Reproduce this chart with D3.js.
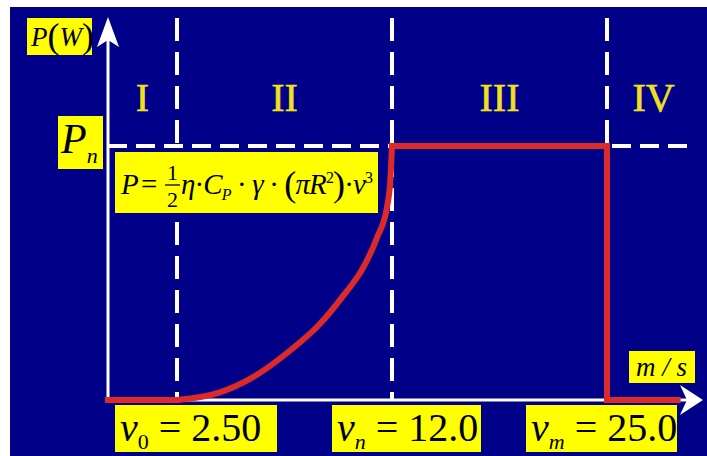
<!DOCTYPE html>
<html>
<head>
<meta charset="utf-8">
<script src="https://cdn.jsdelivr.net/npm/d3@7"></script>
<style>
  body { margin: 0; background: #fff; }
  svg { display: block; }
</style>
</head>
<body>
<div id="chart"></div>
<script>
// rising part of the power curve (P normalised to Pn = 1)
const curveSpeeds = [2.5, 4.4, 5.86, 7.36, 8.82, 9.84, 10.72, 11.34, 11.78, 11.93, 12.0];
const curvePowers = [0, 0.03, 0.09, 0.185, 0.30, 0.41, 0.52, 0.64, 0.76, 0.87, 1.0];
// flat / step parts: below cut-in, rated, cut-out
const lowSpeeds = [0, 2.5];
const lowPowers = [0, 0];
const ratedSpeeds = [12.0, 25.0, 25.0, 29.1];
const ratedPowers = [1, 1, 0, 0];
const markSpeeds = [2.5, 12.0, 25.0];
const markNames = ['0', 'n', 'm'];
const markTexts = ['2.50', '12.0', '25.0'];
const regionNames = ['I', 'II', 'III', 'IV'];
const regionBounds = [0, 2.5, 12.0, 25.0, 30.4];
const ratedPower = 1;

const width = 707;
const height = 456;
const serif = 'Liberation Serif, Times New Roman, serif';

const svg = d3.select('#chart').append('svg')
    .attr('width', width)
    .attr('height', height);

// navy panel with thin white border top/left
svg.append('rect')
    .attr('x', 10).attr('y', 7)
    .attr('width', width - 10).attr('height', height - 7)
    .attr('fill', '#000088');

// x scale is piecewise: the sketch is not drawn to scale
const x = d3.scaleLinear()
    .domain(regionBounds)
    .range([108, 177, 392, 607, 700]);

const y = d3.scaleLinear()
    .domain([0, ratedPower])
    .range([400, 146]);

const x0 = x(0), y0 = y(0);

// dashed guides
markSpeeds.forEach(v => {
    svg.append('line')
        .attr('x1', x(v)).attr('x2', x(v))
        .attr('y1', 18).attr('y2', y0)
        .attr('stroke', '#fff')
        .attr('stroke-width', 4)
        .attr('stroke-dasharray', '23,11');
});
svg.append('line')
    .attr('x1', x0).attr('x2', 695)
    .attr('y1', y(ratedPower)).attr('y2', y(ratedPower))
    .attr('stroke', '#fff')
    .attr('stroke-width', 4)
    .attr('stroke-dasharray', '19,9');

// axes with arrow heads
svg.append('line')
    .attr('x1', x0).attr('x2', x0)
    .attr('y1', y0 + 1).attr('y2', 40)
    .attr('stroke', '#fff').attr('stroke-width', 3);
svg.append('line')
    .attr('x1', x0 - 1).attr('x2', 690)
    .attr('y1', y0).attr('y2', y0)
    .attr('stroke', '#fff').attr('stroke-width', 3);
svg.append('path')
    .attr('d', `M${x0},17 L${x0 + 11},47 L${x0},40 L${x0 - 11},47 Z`)
    .attr('fill', '#fff');
svg.append('path')
    .attr('d', `M703,${y0} L680,${y0 - 15} L687,${y0} L680,${y0 + 15} Z`)
    .attr('fill', '#fff');

// region numerals
regionNames.forEach((name, i) => {
    svg.append('text')
        .attr('x', x((regionBounds[i] + regionBounds[i + 1]) / 2))
        .attr('y', 111)
        .attr('text-anchor', 'middle')
        .attr('font-family', serif)
        .attr('font-size', 40)
        .attr('fill', '#f2e01e')
        .attr('stroke', '#f2e01e')
        .attr('stroke-width', 0.6)
        .text(name);
});

// power curve
const lineStep = d3.line()
    .x(d => x(d[0]))
    .y(d => y(d[1]));
const lineCurve = d3.line()
    .x(d => x(d[0]))
    .y(d => y(d[1]))
    .curve(d3.curveMonotoneX);

[[lowSpeeds, lowPowers, lineStep], [curveSpeeds, curvePowers, lineCurve], [ratedSpeeds, ratedPowers, lineStep]]
    .forEach(([vs, ps, gen]) => {
        svg.append('path')
            .datum(d3.zip(vs, ps))
            .attr('d', gen)
            .attr('fill', 'none')
            .attr('stroke', '#dc2a2a')
            .attr('stroke-width', 6)
            .attr('stroke-linejoin', 'miter')
            .attr('stroke-linecap', 'square');
    });

// yellow label boxes
function box(bx, by, bw, bh) {
    svg.append('rect')
        .attr('x', bx).attr('y', by)
        .attr('width', bw).attr('height', bh)
        .attr('fill', '#ffff00');
}
function label(tx, ty, size, style) {
    return svg.append('text')
        .attr('x', tx).attr('y', ty)
        .attr('font-family', serif)
        .attr('font-size', size)
        .attr('font-style', style || 'normal')
        .attr('fill', '#000');
}

// P(W)
box(27, 18, 65, 37);
const pw = label(31, 46, 27, 'italic');
pw.append('tspan').text('P');
pw.append('tspan').attr('font-style', 'normal').attr('font-size', 36).attr('dy', 2).text('(');
pw.append('tspan').attr('dy', -2).text('W');
pw.append('tspan').attr('font-style', 'normal').attr('font-size', 36).attr('dy', 2).text(')');

// Pn
box(58, 116, 45, 53);
const pn = label(61, 153, 42, 'italic');
pn.append('tspan').text('P');
pn.append('tspan').attr('font-size', 22).attr('dy', 10).text('n');

// formula
box(115, 152, 263, 61);
label(121, 194, 29, 'italic').text('P');
label(141, 194, 29).text('=');
label(167, 180, 22).text('1');
label(167, 207, 22).text('2');
svg.append('line')
    .attr('x1', 165).attr('x2', 180)
    .attr('y1', 185).attr('y2', 185)
    .attr('stroke', '#000').attr('stroke-width', 1.3);
const f2 = label(181, 194, 29, 'italic');
f2.append('tspan').text('η');
f2.append('tspan').attr('font-style', 'normal').text('·');
f2.append('tspan').text('C');
f2.append('tspan').attr('font-size', 16).attr('dy', 6).text('P');
f2.append('tspan').attr('font-style', 'normal').attr('dy', -6).text(' · ');
f2.append('tspan').text('γ');
f2.append('tspan').attr('font-style', 'normal').text(' · ');
f2.append('tspan').attr('font-style', 'normal').attr('font-size', 36).attr('dy', 2).text('(');
f2.append('tspan').attr('dy', -2).text('πR');
f2.append('tspan').attr('font-style', 'normal').attr('font-size', 16).attr('dy', -11).text('2');
f2.append('tspan').attr('font-style', 'normal').attr('font-size', 36).attr('dy', 13).text(')');
f2.append('tspan').attr('font-style', 'normal').attr('dy', -2).text('·');
f2.append('tspan').text('v');
f2.append('tspan').attr('font-style', 'normal').attr('font-size', 16).attr('dy', -11).text('3');
f2.attr('textLength', 192).attr('lengthAdjust', 'spacing');

// speed labels
const markBoxes = [[115, 162], [332, 149], [526, 151]];
markSpeeds.forEach((v, i) => {
    const [bx, bw] = markBoxes[i];
    box(bx, 405, bw, 47);
    const t = label(bx + 5, 441, 40);
    t.append('tspan').attr('font-style', 'italic').text('v');
    t.append('tspan').attr('font-style', i === 0 ? 'normal' : 'italic').attr('font-size', 22).attr('dy', 8).text(markNames[i]);
    t.append('tspan').attr('dy', -8).text(' = ' + markTexts[i]);
});

// m/s
box(629, 351, 66, 32);
label(636, 376, 27, 'italic').text('m / s');
</script>
</body>
</html>
